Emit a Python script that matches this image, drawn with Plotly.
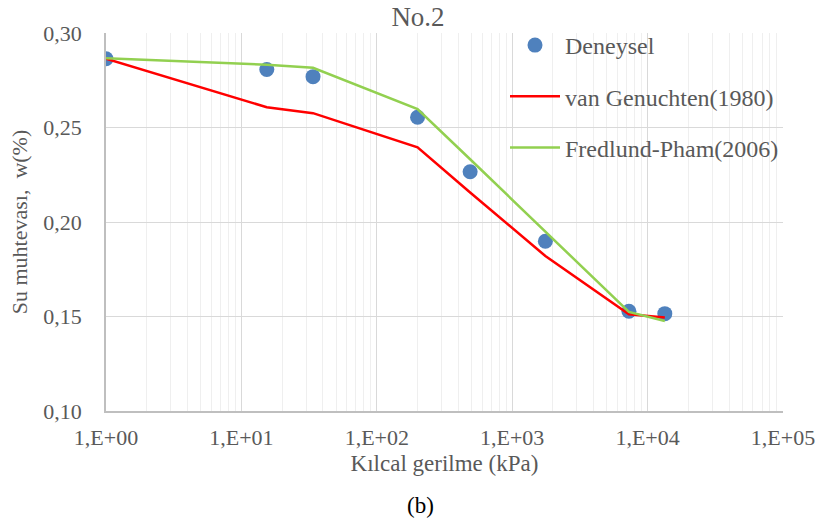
import plotly.graph_objects as go

# Data
suction_exp = [1, 15.4, 33.8, 200, 489, 1758, 7278, 13400]
w_exp = [0.2864, 0.2807, 0.2769, 0.2554, 0.2266, 0.1898, 0.1528, 0.1515]

suction_model = [1, 15.4, 33.8, 200, 489, 1758, 7278, 13400]
w_vg = [0.2864, 0.2607, 0.2576, 0.2395, 0.2156, 0.1820, 0.1512, 0.1495]
w_fp = [0.2866, 0.2832, 0.2816, 0.2597, 0.2332, 0.1950, 0.1524, 0.1476]

x_tickvals = [1, 10, 100, 1000, 10000, 100000]
x_ticktext = ["1,E+00", "1,E+01", "1,E+02", "1,E+03", "1,E+04", "1,E+05"]

FONT = "Liberation Serif"
TXT = "#595959"

W, H = 820, 525
ML, MR, MT, MB = 106, 37, 33, 114
PW, PH = W - ML - MR, H - MT - MB

fig = go.Figure()
fig.add_trace(go.Scatter(
    x=suction_exp, y=w_exp, mode="markers", name="Deneysel",
    marker=dict(color="#4f81bd", size=15), legendgroup="a"))
fig.add_trace(go.Scatter(
    x=suction_model, y=w_vg, mode="lines", name="van Genuchten(1980)",
    line=dict(color="#ff0000", width=2.5), legendgroup="b"))
fig.add_trace(go.Scatter(
    x=suction_model, y=w_fp, mode="lines", name="Fredlund-Pham(2006)",
    line=dict(color="#92d050", width=2.5), legendgroup="c"))

fig.update_layout(
    width=W, height=H,
    margin=dict(l=ML, r=MR, t=MT, b=MB, autoexpand=False),
    paper_bgcolor="white", plot_bgcolor="white",
    separators=",.",
    font=dict(family=FONT, color=TXT, size=22),
    title=dict(text="No.2", x=418/W, xanchor="center", y=1-17/H, yanchor="middle",
               font=dict(size=27, color=TXT, family=FONT)),
    showlegend=True,
    legend=dict(x=(505-106)/PW, y=1+10/PH, xanchor="left", yanchor="top",
                bgcolor="rgba(0,0,0,0)", font=dict(size=24, color=TXT, family=FONT),
                tracegroupgap=17, itemwidth=50),
    annotations=[dict(text="(b)", x=(420-106)/PW, xref="paper", xanchor="center",
                      y=-(505-411)/PH, yref="paper", yanchor="middle",
                      showarrow=False, font=dict(size=23, color="black", family=FONT))],
)

fig.update_xaxes(
    type="log", range=[0, 5], tickvals=x_tickvals, ticktext=x_ticktext,
    automargin=False,
    showgrid=True, gridcolor="#d9d9d9", gridwidth=1.3,
    minor=dict(dtick="D1", showgrid=True, gridcolor="#efefef", gridwidth=1),
    showline=True, linecolor="#bfbfbf", linewidth=1.5,
    ticks="", ticklabelstandoff=6, zeroline=False,
    tickfont=dict(size=22, color=TXT, family=FONT),
    title=dict(text="Kılcal gerilme (kPa)", standoff=6,
               font=dict(size=23, color=TXT, family=FONT)),
)
fig.update_yaxes(
    range=[0.10, 0.30], dtick=0.05, tickformat=".2f",
    automargin=False,
    showgrid=True, gridcolor="#d9d9d9", gridwidth=1.3,
    showline=True, linecolor="#bfbfbf", linewidth=1.5,
    ticks="", ticklabelstandoff=18, zeroline=False,
    tickfont=dict(size=22, color=TXT, family=FONT),
    title=dict(text="Su muhtevası,  w(%)", standoff=10,
               font=dict(size=22, color=TXT, family=FONT)),
)

fig.write_html("out.html",
               config={"displayModeBar": False},
               post_script="document.body.style.margin='0';document.body.style.overflow='hidden';")
